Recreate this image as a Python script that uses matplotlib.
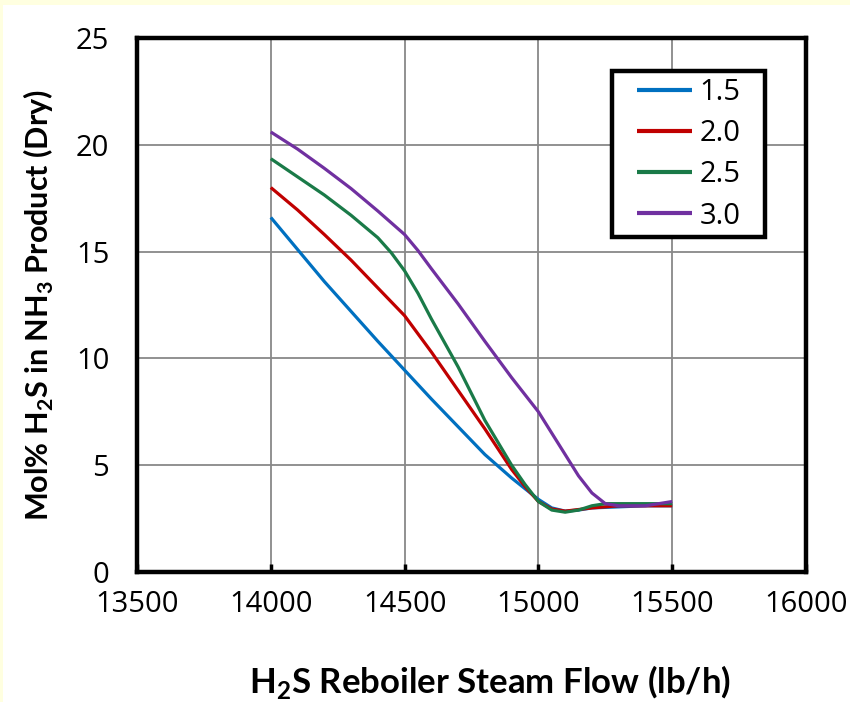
import matplotlib
matplotlib.use("Agg")
import matplotlib.pyplot as plt
from matplotlib import font_manager
from matplotlib.patches import Rectangle

# pick installed families close to the original look
installed = {f.name for f in font_manager.fontManager.ttflist}
tick_font = next((f for f in ["Open Sans", "Lato"] if f in installed), "DejaVu Sans")
label_font = next((f for f in ["Lato", "Open Sans"] if f in installed), "DejaVu Sans")

plt.rcParams["mathtext.fontset"] = "custom"
plt.rcParams["mathtext.rm"] = label_font
plt.rcParams["mathtext.bf"] = label_font + ":bold"

# ---------- data ----------
flow_15 = [14000, 14100, 14200, 14300, 14400, 14500, 14600, 14700, 14800, 14900,
           14950, 15000, 15050, 15100, 15150, 15200, 15300, 15400, 15500]
h2s_15 = [16.6, 15.1, 13.6, 12.2, 10.8, 9.45, 8.1, 6.8, 5.5, 4.4,
          3.9, 3.4, 3.0, 2.85, 2.9, 3.0, 3.05, 3.1, 3.1]

flow_20 = [14000, 14100, 14200, 14300, 14400, 14500, 14600, 14700, 14800, 14900,
           14950, 15000, 15050, 15100, 15200, 15300, 15400, 15500]
h2s_20 = [18.0, 16.95, 15.8, 14.6, 13.3, 12.0, 10.3, 8.5, 6.7, 4.8,
          4.0, 3.3, 2.95, 2.85, 3.0, 3.1, 3.1, 3.1]

flow_25 = [14000, 14100, 14200, 14300, 14400, 14450, 14500, 14550, 14600, 14700,
           14800, 14900, 14950, 15000, 15050, 15100, 15150, 15200, 15250, 15300, 15500]
h2s_25 = [19.35, 18.5, 17.65, 16.7, 15.65, 14.95, 14.1, 13.05, 11.85, 9.6,
          7.1, 5.0, 4.1, 3.3, 2.9, 2.8, 2.9, 3.1, 3.2, 3.2, 3.2]

flow_30 = [14000, 14100, 14200, 14300, 14400, 14450, 14500, 14550, 14600, 14700,
           14800, 14900, 15000, 15050, 15100, 15150, 15200, 15250, 15300, 15400, 15500]
h2s_30 = [20.6, 19.8, 18.9, 17.95, 16.9, 16.35, 15.8, 15.05, 14.2, 12.55,
          10.8, 9.1, 7.5, 6.5, 5.5, 4.5, 3.7, 3.2, 3.1, 3.1, 3.3]

series_labels = ["1.5", "2.0", "2.5", "3.0"]
series_colors = ["#0070C0", "#C00000", "#1A7A48", "#7030A0"]

x_ticks = [13500, 14000, 14500, 15000, 15500, 16000]
y_ticks = [0, 5, 10, 15, 20, 25]

# ---------- figure ----------
fig = plt.figure(figsize=(8.5, 7.02), dpi=100, facecolor="#FFFFE0")
bg = Rectangle((3 / 850, 0), 1, 697 / 702, transform=fig.transFigure,
               facecolor="white", edgecolor="none", zorder=-10)
fig.add_artist(bg)
ax = fig.add_axes([137 / 850, 130 / 702, 669 / 850, 534 / 702])
ax.set_facecolor("white")

for fx, fy, lab, col in zip([flow_15, flow_20, flow_25, flow_30],
                            [h2s_15, h2s_20, h2s_25, h2s_30],
                            series_labels, series_colors):
    ax.plot(fx, fy, color=col, lw=2.3, label=lab, solid_capstyle="butt")

ax.set_xlim(13500, 16000)
ax.set_ylim(0, 25)
ax.set_xticks(x_ticks)
ax.set_yticks(y_ticks)
ax.grid(True, color="#888888", lw=1.3)
ax.set_axisbelow(True)

for s in ax.spines.values():
    s.set_linewidth(3.2)
    s.set_color("black")

ax.tick_params(axis="x", direction="in", length=6, width=2.5, pad=13, labelsize=21)
ax.tick_params(axis="y", length=0, pad=20, labelsize=21)
for t in ax.get_xticklabels() + ax.get_yticklabels():
    t.set_fontfamily(tick_font)

ax.set_xlabel(r"H$_\mathbf{2}$S Reboiler Steam Flow (lb/h)", fontsize=25, fontweight="bold",
              family=label_font)
ax.xaxis.set_label_coords(0.528, -0.17)
ax.set_ylabel(r"Mol% H$_\mathbf{2}$S in NH$_\mathbf{3}$ Product (Dry)", fontsize=22,
              fontweight="bold", family=label_font, labelpad=14)

# legend box: drawn separately so the padding can be wider than tall
box_x0, box_y0, box_w, box_h = 0.710, 0.627, 0.229, 0.311
ax.add_patch(Rectangle((box_x0, box_y0), box_w, box_h, transform=ax.transAxes,
                       facecolor="white", edgecolor="black", lw=3.2, zorder=4))
leg = ax.legend(loc="center", bbox_to_anchor=(box_x0 + box_w / 2, box_y0 + box_h / 2),
                frameon=False, handlelength=1.9, handletextpad=0.25, labelspacing=0.42,
                borderpad=0, borderaxespad=0, prop={"family": tick_font, "size": 21})
leg.set_zorder(5)
for line in leg.get_lines():
    line.set_linewidth(3)

fig.savefig("out.png", dpi=100, facecolor=fig.get_facecolor())
